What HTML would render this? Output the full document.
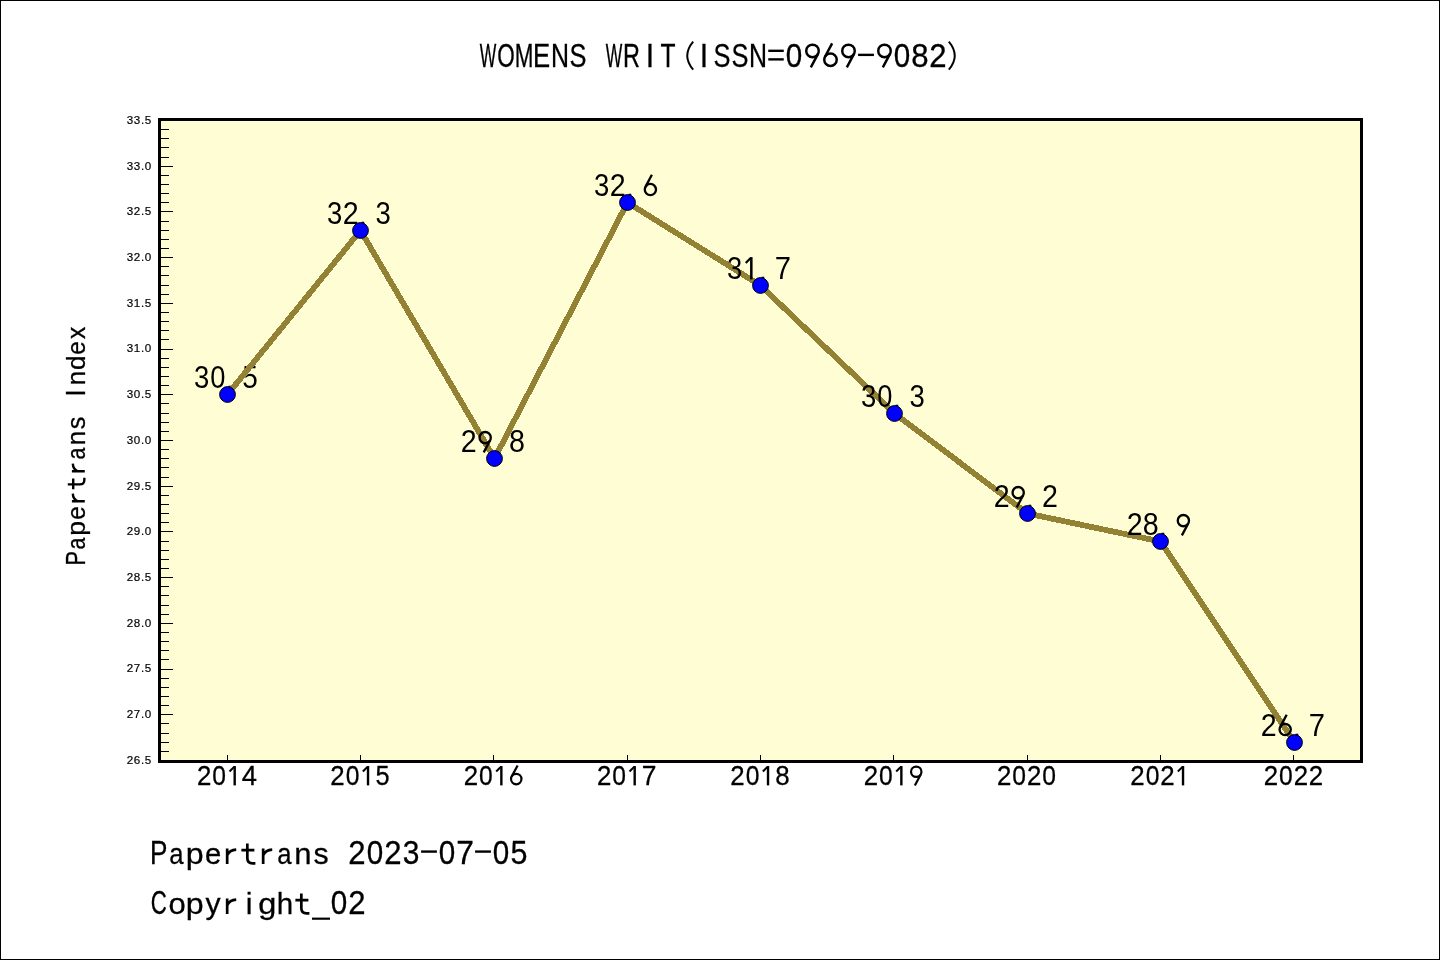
<!DOCTYPE html>
<html><head><meta charset="utf-8"><title>WOMENS WRIT</title>
<style>html,body{margin:0;padding:0;background:#fff;}body{width:1440px;height:960px;overflow:hidden;font-family:"Liberation Sans",sans-serif;}svg{display:block;will-change:transform;}</style>
</head><body>
<svg width="1440" height="960" viewBox="0 0 1440 960" font-family="Liberation Sans, sans-serif" fill="#000">
<rect x="0" y="0" width="1440" height="960" fill="#fff"/>
<rect x="0.5" y="0.5" width="1439" height="959" fill="none" stroke="#000" stroke-width="1"/>
<rect x="160" y="120" width="1200" height="640" fill="#fffdd3"/>
<text transform="translate(479.70 67.30) scale(0.533 1)" font-size="32.94" stroke="#000" stroke-width="0.3">W</text>
<text transform="translate(497.25 67.30) scale(0.683 1)" font-size="32.94" stroke="#000" stroke-width="0.3">O</text>
<text transform="translate(514.66 67.30) scale(0.681 1)" font-size="32.94" stroke="#000" stroke-width="0.3">M</text>
<text transform="translate(532.93 67.30) scale(0.780 1)" font-size="32.94" stroke="#000" stroke-width="0.3">E</text>
<text transform="translate(551.00 67.30) scale(0.757 1)" font-size="32.94" stroke="#000" stroke-width="0.3">N</text>
<text transform="translate(569.53 67.30) scale(0.772 1)" font-size="32.94" stroke="#000" stroke-width="0.3">S</text>
<text transform="translate(605.70 67.30) scale(0.533 1)" font-size="32.94" stroke="#000" stroke-width="0.3">W</text>
<text transform="translate(623.12 67.30) scale(0.712 1)" font-size="32.94" stroke="#000" stroke-width="0.3">R</text>
<text transform="translate(645.79 67.30) scale(0.920 1)" font-size="32.94" stroke="#000" stroke-width="0.3">I</text>
<text transform="translate(660.49 67.30) scale(0.747 1)" font-size="32.94" stroke="#000" stroke-width="0.3">T</text>
<path d="M693.20 41.56 Q681.32 55.60 693.20 69.64" fill="none" stroke="#000" stroke-width="1.94"/>
<text transform="translate(699.79 67.30) scale(0.920 1)" font-size="32.94" stroke="#000" stroke-width="0.3">I</text>
<text transform="translate(713.53 67.30) scale(0.772 1)" font-size="32.94" stroke="#000" stroke-width="0.3">S</text>
<text transform="translate(731.53 67.30) scale(0.772 1)" font-size="32.94" stroke="#000" stroke-width="0.3">S</text>
<text transform="translate(749.00 67.30) scale(0.757 1)" font-size="32.94" stroke="#000" stroke-width="0.3">N</text>
<rect x="768.26" y="49.61" width="15.48" height="2.38"/>
<rect x="768.26" y="58.19" width="15.48" height="2.38"/>
<text transform="translate(785.75 67.30) scale(0.901 1)" font-size="32.94" stroke="#000" stroke-width="0.3">0</text>
<circle cx="812.49" cy="50.90" r="6.25" fill="none" stroke="#000" stroke-width="2.48"/>
<path d="M818.00 53.84 L810.83 67.30" fill="none" stroke="#000" stroke-width="2.48"/>
<circle cx="830.49" cy="59.70" r="6.25" fill="none" stroke="#000" stroke-width="2.48"/>
<path d="M824.97 56.77 L832.14 43.31" fill="none" stroke="#000" stroke-width="2.48"/>
<circle cx="848.49" cy="50.90" r="6.25" fill="none" stroke="#000" stroke-width="2.48"/>
<path d="M854.00 53.84 L846.83 67.30" fill="none" stroke="#000" stroke-width="2.48"/>
<rect x="858.08" y="53.69" width="15.84" height="2.38"/>
<circle cx="884.49" cy="50.90" r="6.25" fill="none" stroke="#000" stroke-width="2.48"/>
<path d="M890.00 53.84 L882.83 67.30" fill="none" stroke="#000" stroke-width="2.48"/>
<text transform="translate(893.75 67.30) scale(0.901 1)" font-size="32.94" stroke="#000" stroke-width="0.3">0</text>
<text transform="translate(911.32 67.30) scale(0.947 1)" font-size="32.94" stroke="#000" stroke-width="0.3">8</text>
<text transform="translate(929.34 67.30) scale(0.946 1)" font-size="32.94" stroke="#000" stroke-width="0.3">2</text>
<path d="M948.80 41.56 Q960.68 55.60 948.80 69.64" fill="none" stroke="#000" stroke-width="1.94"/>
<g transform="translate(84.8 565.5) rotate(-90)">
<text transform="translate(-0.06 0.00) scale(0.791 1)" font-size="27.45" stroke="#000" stroke-width="0.3">P</text>
<text transform="translate(16.12 0.00) scale(0.777 0.91)" font-size="27.45" stroke="#000" stroke-width="0.3">a</text>
<text transform="translate(29.78 0.00) scale(0.972 0.91)" font-size="27.45" stroke="#000" stroke-width="0.3">p</text>
<text transform="translate(45.77 0.00) scale(0.885 0.91)" font-size="27.45" stroke="#000" stroke-width="0.3">e</text>
<path d="M64.31 -12.90 V0.00 M64.50 -7.50 Q66.30 -11.70 71.85 -12.00" fill="none" stroke="#000" stroke-width="2.40"/>
<path d="M81.11 -17.00 V-4.95 Q81.11 -0.45 85.50 -0.45 H87.83 M76.16 -11.58 H87.00" fill="none" stroke="#000" stroke-width="2.40"/>
<path d="M94.31 -12.90 V0.00 M94.50 -7.50 Q96.30 -11.70 101.85 -12.00" fill="none" stroke="#000" stroke-width="2.40"/>
<text transform="translate(106.12 0.00) scale(0.777 0.91)" font-size="27.45" stroke="#000" stroke-width="0.3">a</text>
<text transform="translate(120.31 0.00) scale(0.939 0.91)" font-size="27.45" stroke="#000" stroke-width="0.3">n</text>
<text transform="translate(136.33 0.00) scale(0.915 0.91)" font-size="27.45" stroke="#000" stroke-width="0.3">s</text>
<text transform="translate(168.99 0.00) scale(0.920 1)" font-size="27.45" stroke="#000" stroke-width="0.3">I</text>
<text transform="translate(180.31 0.00) scale(0.939 0.91)" font-size="27.45" stroke="#000" stroke-width="0.3">n</text>
<text transform="translate(195.56 0.00) scale(0.948 0.91)" font-size="27.45" stroke="#000" stroke-width="0.3">d</text>
<text transform="translate(210.77 0.00) scale(0.885 0.91)" font-size="27.45" stroke="#000" stroke-width="0.3">e</text>
<text transform="translate(226.38 0.00) scale(0.892 0.91)" font-size="27.45" stroke="#000" stroke-width="0.3">x</text>
</g>
<text transform="translate(149.89 864.00) scale(0.794 1)" font-size="32.94" stroke="#000" stroke-width="0.3">P</text>
<text transform="translate(169.31 864.00) scale(0.780 0.91)" font-size="32.94" stroke="#000" stroke-width="0.3">a</text>
<text transform="translate(185.70 864.00) scale(0.976 0.91)" font-size="32.94" stroke="#000" stroke-width="0.3">p</text>
<text transform="translate(204.89 864.00) scale(0.889 0.91)" font-size="32.94" stroke="#000" stroke-width="0.3">e</text>
<path d="M227.17 848.52 V864.00 M227.40 855.00 Q229.56 849.96 236.22 849.60" fill="none" stroke="#000" stroke-width="2.70"/>
<path d="M247.33 843.61 V858.06 Q247.33 863.46 252.60 863.46 H255.39 M241.39 850.10 H254.40" fill="none" stroke="#000" stroke-width="2.70"/>
<path d="M263.17 848.52 V864.00 M263.40 855.00 Q265.56 849.96 272.22 849.60" fill="none" stroke="#000" stroke-width="2.70"/>
<text transform="translate(277.31 864.00) scale(0.780 0.91)" font-size="32.94" stroke="#000" stroke-width="0.3">a</text>
<text transform="translate(294.34 864.00) scale(0.943 0.91)" font-size="32.94" stroke="#000" stroke-width="0.3">n</text>
<text transform="translate(313.56 864.00) scale(0.919 0.91)" font-size="32.94" stroke="#000" stroke-width="0.3">s</text>
<text transform="translate(348.34 864.00) scale(0.946 1)" font-size="32.94" stroke="#000" stroke-width="0.3">2</text>
<text transform="translate(366.75 864.00) scale(0.901 1)" font-size="32.94" stroke="#000" stroke-width="0.3">0</text>
<text transform="translate(384.34 864.00) scale(0.946 1)" font-size="32.94" stroke="#000" stroke-width="0.3">2</text>
<text transform="translate(402.77 864.00) scale(0.909 1)" font-size="32.94" stroke="#000" stroke-width="0.3">3</text>
<rect x="421.08" y="850.39" width="15.84" height="2.38"/>
<text transform="translate(438.75 864.00) scale(0.901 1)" font-size="32.94" stroke="#000" stroke-width="0.3">0</text>
<text transform="translate(456.14 864.00) scale(0.966 1)" font-size="32.94" stroke="#000" stroke-width="0.3">7</text>
<rect x="475.08" y="850.39" width="15.84" height="2.38"/>
<text transform="translate(492.75 864.00) scale(0.901 1)" font-size="32.94" stroke="#000" stroke-width="0.3">0</text>
<text transform="translate(510.55 864.00) scale(0.926 1)" font-size="32.94" stroke="#000" stroke-width="0.3">5</text>
<text transform="translate(150.82 914.00) scale(0.676 1)" font-size="32.94" stroke="#000" stroke-width="0.3">C</text>
<text transform="translate(168.38 914.00) scale(0.941 0.91)" font-size="32.94" stroke="#000" stroke-width="0.3">o</text>
<text transform="translate(185.70 914.00) scale(0.976 0.91)" font-size="32.94" stroke="#000" stroke-width="0.3">p</text>
<text transform="translate(205.43 914.00) scale(0.919 0.91)" font-size="32.94" stroke="#000" stroke-width="0.3">y</text>
<path d="M227.17 898.52 V914.00 M227.40 905.00 Q229.56 899.96 236.22 899.60" fill="none" stroke="#000" stroke-width="2.70"/>
<text transform="translate(245.64 914.00) scale(0.920 0.91)" font-size="32.94" stroke="#000" stroke-width="0.3">i</text>
<text transform="translate(258.31 914.00) scale(0.988 0.91)" font-size="32.94" stroke="#000" stroke-width="0.3">g</text>
<text transform="translate(276.71 914.00) scale(0.898 0.91)" font-size="32.94" stroke="#000" stroke-width="0.3">h</text>
<path d="M301.33 893.61 V908.06 Q301.33 913.46 306.60 913.46 H309.39 M295.39 900.10 H308.40" fill="none" stroke="#000" stroke-width="2.70"/>
<rect x="312.00" y="917.60" width="18.00" height="2.16"/>
<text transform="translate(330.75 914.00) scale(0.901 1)" font-size="32.94" stroke="#000" stroke-width="0.3">0</text>
<text transform="translate(348.34 914.00) scale(0.946 1)" font-size="32.94" stroke="#000" stroke-width="0.3">2</text>
<path d="M161 760.50h12 M161 751.50h8 M161 742.50h8 M161 733.50h8 M161 723.50h8 M161 714.50h12 M161 705.50h8 M161 696.50h8 M161 687.50h8 M161 678.50h8 M161 669.50h12 M161 659.50h8 M161 650.50h8 M161 641.50h8 M161 632.50h8 M161 623.50h12 M161 614.50h8 M161 605.50h8 M161 595.50h8 M161 586.50h8 M161 577.50h12 M161 568.50h8 M161 559.50h8 M161 550.50h8 M161 541.50h8 M161 531.50h12 M161 522.50h8 M161 513.50h8 M161 504.50h8 M161 495.50h8 M161 486.50h12 M161 477.50h8 M161 467.50h8 M161 458.50h8 M161 449.50h8 M161 440.50h12 M161 431.50h8 M161 422.50h8 M161 413.50h8 M161 403.50h8 M161 394.50h12 M161 385.50h8 M161 376.50h8 M161 367.50h8 M161 358.50h8 M161 349.50h12 M161 339.50h8 M161 330.50h8 M161 321.50h8 M161 312.50h8 M161 303.50h12 M161 294.50h8 M161 285.50h8 M161 275.50h8 M161 266.50h8 M161 257.50h12 M161 248.50h8 M161 239.50h8 M161 230.50h8 M161 221.50h8 M161 211.50h12 M161 202.50h8 M161 193.50h8 M161 184.50h8 M161 175.50h8 M161 166.50h12 M161 157.50h8 M161 147.50h8 M161 138.50h8 M161 129.50h8 M161 120.50h12" stroke="#000" stroke-width="1" fill="none" shape-rendering="crispEdges"/>
<text x="151.85" y="764.20" font-size="11.6" letter-spacing="0.62" text-anchor="end" stroke="#000" stroke-width="0.18">26.5</text>
<text x="151.85" y="718.20" font-size="11.6" letter-spacing="0.62" text-anchor="end" stroke="#000" stroke-width="0.18">27.0</text>
<text x="151.85" y="672.20" font-size="11.6" letter-spacing="0.62" text-anchor="end" stroke="#000" stroke-width="0.18">27.5</text>
<text x="151.85" y="627.20" font-size="11.6" letter-spacing="0.62" text-anchor="end" stroke="#000" stroke-width="0.18">28.0</text>
<text x="151.85" y="581.20" font-size="11.6" letter-spacing="0.62" text-anchor="end" stroke="#000" stroke-width="0.18">28.5</text>
<text x="151.85" y="535.20" font-size="11.6" letter-spacing="0.62" text-anchor="end" stroke="#000" stroke-width="0.18">29.0</text>
<text x="151.85" y="490.20" font-size="11.6" letter-spacing="0.62" text-anchor="end" stroke="#000" stroke-width="0.18">29.5</text>
<text x="151.85" y="444.20" font-size="11.6" letter-spacing="0.62" text-anchor="end" stroke="#000" stroke-width="0.18">30.0</text>
<text x="151.85" y="398.20" font-size="11.6" letter-spacing="0.62" text-anchor="end" stroke="#000" stroke-width="0.18">30.5</text>
<text x="151.85" y="352.20" font-size="11.6" letter-spacing="0.62" text-anchor="end" stroke="#000" stroke-width="0.18">31.0</text>
<text x="151.85" y="307.20" font-size="11.6" letter-spacing="0.62" text-anchor="end" stroke="#000" stroke-width="0.18">31.5</text>
<text x="151.85" y="261.20" font-size="11.6" letter-spacing="0.62" text-anchor="end" stroke="#000" stroke-width="0.18">32.0</text>
<text x="151.85" y="215.20" font-size="11.6" letter-spacing="0.62" text-anchor="end" stroke="#000" stroke-width="0.18">32.5</text>
<text x="151.85" y="170.20" font-size="11.6" letter-spacing="0.62" text-anchor="end" stroke="#000" stroke-width="0.18">33.0</text>
<text x="151.85" y="124.20" font-size="11.6" letter-spacing="0.62" text-anchor="end" stroke="#000" stroke-width="0.18">33.5</text>
<text transform="translate(196.98 785.40) scale(0.942 1)" font-size="27.45" stroke="#000" stroke-width="0.3">2</text>
<text transform="translate(212.32 785.40) scale(0.897 1)" font-size="27.45" stroke="#000" stroke-width="0.3">0</text>
<path d="M234.69 766.05 V785.40" fill="none" stroke="#000" stroke-width="2.40"/>
<path d="M234.39 766.60 L229.52 771.45" fill="none" stroke="#000" stroke-width="2.04"/>
<text transform="translate(241.64 785.40) scale(0.998 1)" font-size="27.45" stroke="#000" stroke-width="0.3">4</text>
<text transform="translate(330.31 785.40) scale(0.942 1)" font-size="27.45" stroke="#000" stroke-width="0.3">2</text>
<text transform="translate(345.65 785.40) scale(0.897 1)" font-size="27.45" stroke="#000" stroke-width="0.3">0</text>
<path d="M368.02 766.05 V785.40" fill="none" stroke="#000" stroke-width="2.40"/>
<path d="M367.72 766.60 L362.85 771.45" fill="none" stroke="#000" stroke-width="2.04"/>
<text transform="translate(375.49 785.40) scale(0.922 1)" font-size="27.45" stroke="#000" stroke-width="0.3">5</text>
<text transform="translate(463.65 785.40) scale(0.942 1)" font-size="27.45" stroke="#000" stroke-width="0.3">2</text>
<text transform="translate(478.98 785.40) scale(0.897 1)" font-size="27.45" stroke="#000" stroke-width="0.3">0</text>
<path d="M501.36 766.05 V785.40" fill="none" stroke="#000" stroke-width="2.40"/>
<path d="M501.06 766.60 L496.18 771.45" fill="none" stroke="#000" stroke-width="2.04"/>
<circle cx="516.24" cy="779.07" r="5.21" fill="none" stroke="#000" stroke-width="2.21"/>
<path d="M511.64 776.62 L517.62 765.40" fill="none" stroke="#000" stroke-width="2.21"/>
<text transform="translate(596.98 785.40) scale(0.942 1)" font-size="27.45" stroke="#000" stroke-width="0.3">2</text>
<text transform="translate(612.32 785.40) scale(0.897 1)" font-size="27.45" stroke="#000" stroke-width="0.3">0</text>
<path d="M634.69 766.05 V785.40" fill="none" stroke="#000" stroke-width="2.40"/>
<path d="M634.39 766.60 L629.52 771.45" fill="none" stroke="#000" stroke-width="2.04"/>
<text transform="translate(641.81 785.40) scale(0.962 1)" font-size="27.45" stroke="#000" stroke-width="0.3">7</text>
<text transform="translate(730.31 785.40) scale(0.942 1)" font-size="27.45" stroke="#000" stroke-width="0.3">2</text>
<text transform="translate(745.65 785.40) scale(0.897 1)" font-size="27.45" stroke="#000" stroke-width="0.3">0</text>
<path d="M768.02 766.05 V785.40" fill="none" stroke="#000" stroke-width="2.40"/>
<path d="M767.72 766.60 L762.85 771.45" fill="none" stroke="#000" stroke-width="2.04"/>
<text transform="translate(775.30 785.40) scale(0.943 1)" font-size="27.45" stroke="#000" stroke-width="0.3">8</text>
<text transform="translate(863.65 785.40) scale(0.942 1)" font-size="27.45" stroke="#000" stroke-width="0.3">2</text>
<text transform="translate(878.98 785.40) scale(0.897 1)" font-size="27.45" stroke="#000" stroke-width="0.3">0</text>
<path d="M901.36 766.05 V785.40" fill="none" stroke="#000" stroke-width="2.40"/>
<path d="M901.06 766.60 L896.18 771.45" fill="none" stroke="#000" stroke-width="2.04"/>
<circle cx="916.24" cy="771.74" r="5.21" fill="none" stroke="#000" stroke-width="2.21"/>
<path d="M920.83 774.18 L914.86 785.40" fill="none" stroke="#000" stroke-width="2.21"/>
<text transform="translate(996.98 785.40) scale(0.942 1)" font-size="27.45" stroke="#000" stroke-width="0.3">2</text>
<text transform="translate(1012.32 785.40) scale(0.897 1)" font-size="27.45" stroke="#000" stroke-width="0.3">0</text>
<text transform="translate(1026.98 785.40) scale(0.942 1)" font-size="27.45" stroke="#000" stroke-width="0.3">2</text>
<text transform="translate(1042.32 785.40) scale(0.897 1)" font-size="27.45" stroke="#000" stroke-width="0.3">0</text>
<text transform="translate(1130.31 785.40) scale(0.942 1)" font-size="27.45" stroke="#000" stroke-width="0.3">2</text>
<text transform="translate(1145.65 785.40) scale(0.897 1)" font-size="27.45" stroke="#000" stroke-width="0.3">0</text>
<text transform="translate(1160.31 785.40) scale(0.942 1)" font-size="27.45" stroke="#000" stroke-width="0.3">2</text>
<path d="M1183.03 766.05 V785.40" fill="none" stroke="#000" stroke-width="2.40"/>
<path d="M1182.73 766.60 L1177.85 771.45" fill="none" stroke="#000" stroke-width="2.04"/>
<text transform="translate(1263.65 785.40) scale(0.942 1)" font-size="27.45" stroke="#000" stroke-width="0.3">2</text>
<text transform="translate(1278.98 785.40) scale(0.897 1)" font-size="27.45" stroke="#000" stroke-width="0.3">0</text>
<text transform="translate(1293.65 785.40) scale(0.942 1)" font-size="27.45" stroke="#000" stroke-width="0.3">2</text>
<text transform="translate(1308.65 785.40) scale(0.942 1)" font-size="27.45" stroke="#000" stroke-width="0.3">2</text>
<path d="M227.5 760v-5 M360.5 760v-5 M493.5 760v-5 M627.5 760v-5 M760.5 760v-5 M893.5 760v-5 M1027.5 760v-5 M1160.5 760v-5 M1293.5 760v-5" stroke="#000" stroke-width="1" fill="none"/>
<text transform="translate(194.08 388.40) scale(0.870 1)" font-size="31.60" stroke="#000" stroke-width="0.0">3</text>
<text transform="translate(210.16 388.40) scale(0.863 1)" font-size="31.60" stroke="#000" stroke-width="0.0">0</text>
<rect x="228.59" y="385.73" width="2.67" height="2.67"/>
<text transform="translate(242.19 388.40) scale(0.887 1)" font-size="31.60" stroke="#000" stroke-width="0.0">5</text>
<line x1="227.50" y1="394.50" x2="360.50" y2="230.50" stroke="#938234" stroke-width="5.8" stroke-linecap="round" shape-rendering="crispEdges"/>
<text transform="translate(327.08 224.40) scale(0.870 1)" font-size="31.60" stroke="#000" stroke-width="0.0">3</text>
<text transform="translate(342.79 224.40) scale(0.906 1)" font-size="31.60" stroke="#000" stroke-width="0.0">2</text>
<rect x="361.58" y="221.73" width="2.67" height="2.67"/>
<text transform="translate(375.38 224.40) scale(0.870 1)" font-size="31.60" stroke="#000" stroke-width="0.0">3</text>
<line x1="360.50" y1="230.50" x2="494.50" y2="458.50" stroke="#938234" stroke-width="5.8" stroke-linecap="round" shape-rendering="crispEdges"/>
<text transform="translate(460.69 452.40) scale(0.906 1)" font-size="31.60" stroke="#000" stroke-width="0.0">2</text>
<circle cx="485.19" cy="437.64" r="5.62" fill="none" stroke="#000" stroke-width="2.32"/>
<path d="M490.15 440.28 L483.70 452.40" fill="none" stroke="#000" stroke-width="2.32"/>
<rect x="495.58" y="449.73" width="2.67" height="2.67"/>
<text transform="translate(508.98 452.40) scale(0.907 1)" font-size="31.60" stroke="#000" stroke-width="0.0">8</text>
<line x1="494.50" y1="458.50" x2="627.50" y2="202.50" stroke="#938234" stroke-width="5.8" stroke-linecap="round" shape-rendering="crispEdges"/>
<text transform="translate(594.08 196.40) scale(0.870 1)" font-size="31.60" stroke="#000" stroke-width="0.0">3</text>
<text transform="translate(609.79 196.40) scale(0.906 1)" font-size="31.60" stroke="#000" stroke-width="0.0">2</text>
<rect x="628.58" y="193.73" width="2.67" height="2.67"/>
<circle cx="650.39" cy="189.56" r="5.62" fill="none" stroke="#000" stroke-width="2.32"/>
<path d="M645.43 186.92 L651.88 174.81" fill="none" stroke="#000" stroke-width="2.32"/>
<line x1="627.50" y1="202.50" x2="760.50" y2="285.50" stroke="#938234" stroke-width="5.8" stroke-linecap="round" shape-rendering="crispEdges"/>
<text transform="translate(727.08 279.40) scale(0.870 1)" font-size="31.60" stroke="#000" stroke-width="0.0">3</text>
<path d="M751.32 257.12 V279.40" fill="none" stroke="#000" stroke-width="2.52"/>
<path d="M750.96 257.67 L745.73 262.95" fill="none" stroke="#000" stroke-width="2.14"/>
<rect x="761.58" y="276.73" width="2.67" height="2.67"/>
<text transform="translate(774.81 279.40) scale(0.925 1)" font-size="31.60" stroke="#000" stroke-width="0.0">7</text>
<line x1="760.50" y1="285.50" x2="894.50" y2="413.50" stroke="#938234" stroke-width="5.8" stroke-linecap="round" shape-rendering="crispEdges"/>
<text transform="translate(861.08 407.40) scale(0.870 1)" font-size="31.60" stroke="#000" stroke-width="0.0">3</text>
<text transform="translate(877.16 407.40) scale(0.863 1)" font-size="31.60" stroke="#000" stroke-width="0.0">0</text>
<rect x="895.58" y="404.73" width="2.67" height="2.67"/>
<text transform="translate(909.38 407.40) scale(0.870 1)" font-size="31.60" stroke="#000" stroke-width="0.0">3</text>
<line x1="894.50" y1="413.50" x2="1027.50" y2="513.50" stroke="#938234" stroke-width="5.8" stroke-linecap="round" shape-rendering="crispEdges"/>
<text transform="translate(993.69 507.40) scale(0.906 1)" font-size="31.60" stroke="#000" stroke-width="0.0">2</text>
<circle cx="1018.19" cy="492.64" r="5.62" fill="none" stroke="#000" stroke-width="2.32"/>
<path d="M1023.15 495.28 L1016.70 507.40" fill="none" stroke="#000" stroke-width="2.32"/>
<rect x="1028.59" y="504.73" width="2.67" height="2.67"/>
<text transform="translate(1041.99 507.40) scale(0.906 1)" font-size="31.60" stroke="#000" stroke-width="0.0">2</text>
<line x1="1027.50" y1="513.50" x2="1160.50" y2="541.50" stroke="#938234" stroke-width="5.8" stroke-linecap="round" shape-rendering="crispEdges"/>
<text transform="translate(1126.69 535.40) scale(0.906 1)" font-size="31.60" stroke="#000" stroke-width="0.0">2</text>
<text transform="translate(1142.78 535.40) scale(0.907 1)" font-size="31.60" stroke="#000" stroke-width="0.0">8</text>
<rect x="1161.59" y="532.73" width="2.67" height="2.67"/>
<circle cx="1183.39" cy="520.64" r="5.62" fill="none" stroke="#000" stroke-width="2.32"/>
<path d="M1188.35 523.28 L1181.90 535.40" fill="none" stroke="#000" stroke-width="2.32"/>
<line x1="1160.50" y1="541.50" x2="1294.50" y2="742.50" stroke="#938234" stroke-width="5.8" stroke-linecap="round" shape-rendering="crispEdges"/>
<text transform="translate(1260.69 736.40) scale(0.906 1)" font-size="31.60" stroke="#000" stroke-width="0.0">2</text>
<circle cx="1285.19" cy="729.56" r="5.62" fill="none" stroke="#000" stroke-width="2.32"/>
<path d="M1280.23 726.92 L1286.68 714.81" fill="none" stroke="#000" stroke-width="2.32"/>
<rect x="1295.59" y="733.73" width="2.67" height="2.67"/>
<text transform="translate(1308.81 736.40) scale(0.925 1)" font-size="31.60" stroke="#000" stroke-width="0.0">7</text>
<circle cx="227.50" cy="394.50" r="7.9" fill="#0000ff" stroke="#000" stroke-width="1"/>
<circle cx="360.50" cy="230.50" r="7.9" fill="#0000ff" stroke="#000" stroke-width="1"/>
<circle cx="494.50" cy="458.50" r="7.9" fill="#0000ff" stroke="#000" stroke-width="1"/>
<circle cx="627.50" cy="202.50" r="7.9" fill="#0000ff" stroke="#000" stroke-width="1"/>
<circle cx="760.50" cy="285.50" r="7.9" fill="#0000ff" stroke="#000" stroke-width="1"/>
<circle cx="894.50" cy="413.50" r="7.9" fill="#0000ff" stroke="#000" stroke-width="1"/>
<circle cx="1027.50" cy="513.50" r="7.9" fill="#0000ff" stroke="#000" stroke-width="1"/>
<circle cx="1160.50" cy="541.50" r="7.9" fill="#0000ff" stroke="#000" stroke-width="1"/>
<circle cx="1294.50" cy="742.50" r="7.9" fill="#0000ff" stroke="#000" stroke-width="1"/>
<rect x="159.5" y="119.5" width="1202" height="642" fill="none" stroke="#000" stroke-width="3"/>
</svg>
</body></html>
